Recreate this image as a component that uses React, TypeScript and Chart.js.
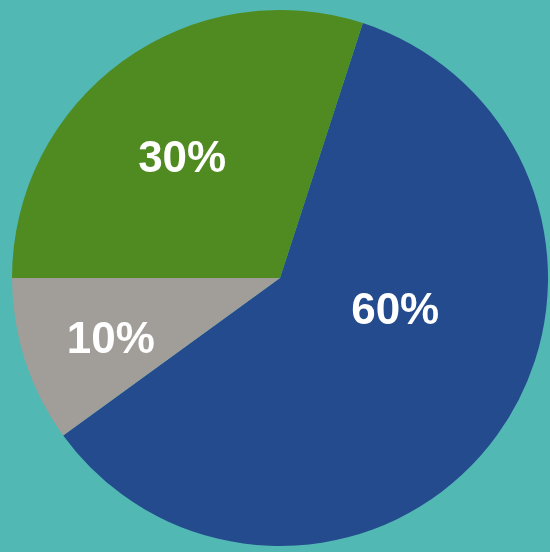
import React, { useEffect, useRef } from "react";
import { Chart, registerables } from "chart.js";

Chart.register(...registerables);

const categories = ["Blue", "Gray", "Green"];
const values = [60, 10, 30];
const valueLabels = ["60%", "10%", "30%"];
const sliceColors = ["#234B8D", "#A19D99", "#4F8B20"];

const labelPlugin = {
  id: "sliceLabels",
  afterDatasetsDraw(chart: any) {
    const meta = chart.getDatasetMeta(0);
    const ctx = chart.ctx;
    // per-slice placement: [angle offset (deg) from middle, radius fraction]
    const place: [number, number][] = [
      [-21, 0.445],
      [-1.5, 0.67],
      [-3, 0.58],
    ];
    ctx.save();
    ctx.fillStyle = "#ffffff";
    ctx.font = "bold 44px 'Liberation Sans', Arial, sans-serif";
    ctx.textAlign = "center";
    ctx.textBaseline = "middle";
    meta.data.forEach((arc: any, i: number) => {
      const p = arc.getProps(["x", "y", "startAngle", "endAngle", "outerRadius"], true);
      const mid = (p.startAngle + p.endAngle) / 2 + (place[i][0] * Math.PI) / 180;
      const r = p.outerRadius * place[i][1];
      ctx.fillText(valueLabels[i], p.x + Math.cos(mid) * r, p.y + Math.sin(mid) * r + 3);
    });
    ctx.restore();
  },
};

export default function App() {
  const ref = useRef<HTMLCanvasElement>(null);
  useEffect(() => {
    document.body.style.margin = "0";
    const chart = new Chart(ref.current!, {
      type: "pie",
      data: {
        labels: categories,
        datasets: [
          {
            data: values,
            backgroundColor: sliceColors,
            borderWidth: 0,
          },
        ],
      },
      options: {
        animation: false,
        responsive: false,
        rotation: 18,
        layout: { padding: { left: 12, right: 2, top: 10, bottom: 6 } },
        plugins: {
          legend: { display: false },
          tooltip: { enabled: false },
        },
      },
      plugins: [labelPlugin],
    });
    return () => chart.destroy();
  }, []);
  return (
    <div style={{ width: 550, height: 552, background: "#52B8B4" }}>
      <canvas ref={ref} width={550} height={552} style={{ display: "block" }} />
    </div>
  );
}
